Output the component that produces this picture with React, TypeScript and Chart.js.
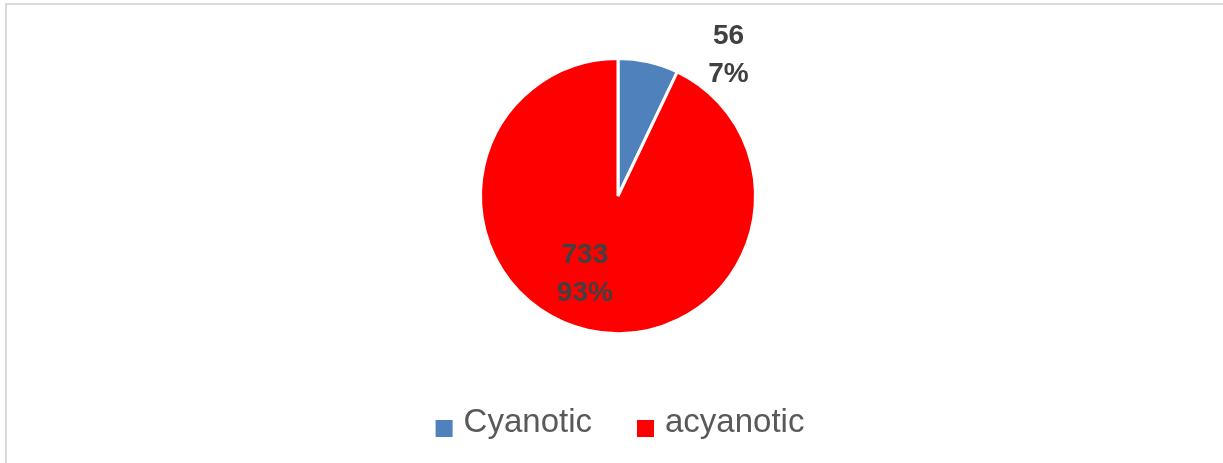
import React, { useEffect, useRef } from "react";
import { Chart, registerables } from "chart.js";

Chart.register(...registerables);

const categories = ["Cyanotic", "acyanotic"];
const values = [56, 733];
const percentLabels = ["7%", "93%"];
const sliceColors = ["#4F81BD", "#FF0000"];

// label placement: angle (deg, clockwise from top) and distance as a fraction of radius
const labelAngles = [37.6, 203.5];
const labelDistances = [1.307, 0.6];

const FONT = "'Liberation Sans', Arial, sans-serif";

const overlayPlugin = {
  id: "overlay",
  afterDraw(chart: any) {
    const ctx = chart.ctx as CanvasRenderingContext2D;
    const meta = chart.getDatasetMeta(0);
    const arc0 = meta.data[0] as any;
    if (!arc0) return;
    const cx = arc0.x;
    const cy = arc0.y;
    const r = arc0.outerRadius + 1;
    const ds = chart.data.datasets[0];

    // data labels
    ctx.save();
    ctx.fillStyle = "#404040";
    ctx.font = `bold 28px ${FONT}`;
    ctx.textAlign = "center";
    ctx.textBaseline = "alphabetic";
    (ds.data as number[]).forEach((v, i) => {
      const a = (labelAngles[i] * Math.PI) / 180;
      const d = labelDistances[i] * r;
      const x = cx + Math.sin(a) * d;
      const y = cy - Math.cos(a) * d;
      ctx.fillText(String(v), x, y - 19 + 10);
      ctx.fillText(percentLabels[i], x, y + 19 + 10);
    });
    ctx.restore();

    // legend
    ctx.save();
    ctx.font = `33px ${FONT}`;
    ctx.textBaseline = "alphabetic";
    ctx.textAlign = "left";
    const box = 17;
    const gap = 11;
    const itemGap = 45;
    const labels = chart.data.labels as string[];
    const widths = labels.map((l) => box + gap + ctx.measureText(l).width);
    const total = widths.reduce((a, b) => a + b, 0) + itemGap * (labels.length - 1);
    let x = cx + 2 - total / 2;
    const baseline = cy + 236;
    labels.forEach((l, i) => {
      ctx.fillStyle = (ds.backgroundColor as string[])[i];
      ctx.fillRect(x, baseline - 12, box, box);
      ctx.fillStyle = "#595959";
      ctx.fillText(l, x + box + gap, baseline);
      x += widths[i] + itemGap;
    });
    ctx.restore();
  },
};

export default function App() {
  const canvasRef = useRef<HTMLCanvasElement | null>(null);

  useEffect(() => {
    if (!canvasRef.current) return;
    const chart = new Chart(canvasRef.current, {
      type: "pie",
      data: {
        labels: categories,
        datasets: [
          {
            data: values,
            backgroundColor: sliceColors,
            borderColor: "#FFFFFF",
            borderWidth: 3,
          },
        ],
      },
      options: {
        animation: false,
        responsive: false,
        maintainAspectRatio: false,
        layout: { padding: { top: 57, bottom: 128, left: 13, right: 0 } },
        plugins: {
          legend: { display: false },
          tooltip: { enabled: false },
        },
      },
      plugins: [overlayPlugin],
    });
    return () => chart.destroy();
  }, []);

  return (
    <div
      style={{
        position: "fixed",
        left: 0,
        top: 0,
        width: 1223,
        height: 463,
        overflow: "hidden",
        background: "#FFFFFF",
      }}
    >
      <div
        style={{
          position: "absolute",
          left: 5,
          top: 3,
          width: 1260,
          height: 500,
          border: "2px solid #D9D9D9",
          boxSizing: "border-box",
        }}
      />
      <canvas
        ref={canvasRef}
        width={1223}
        height={463}
        style={{ position: "absolute", left: 0, top: 0, width: 1223, height: 463 }}
      />
    </div>
  );
}
